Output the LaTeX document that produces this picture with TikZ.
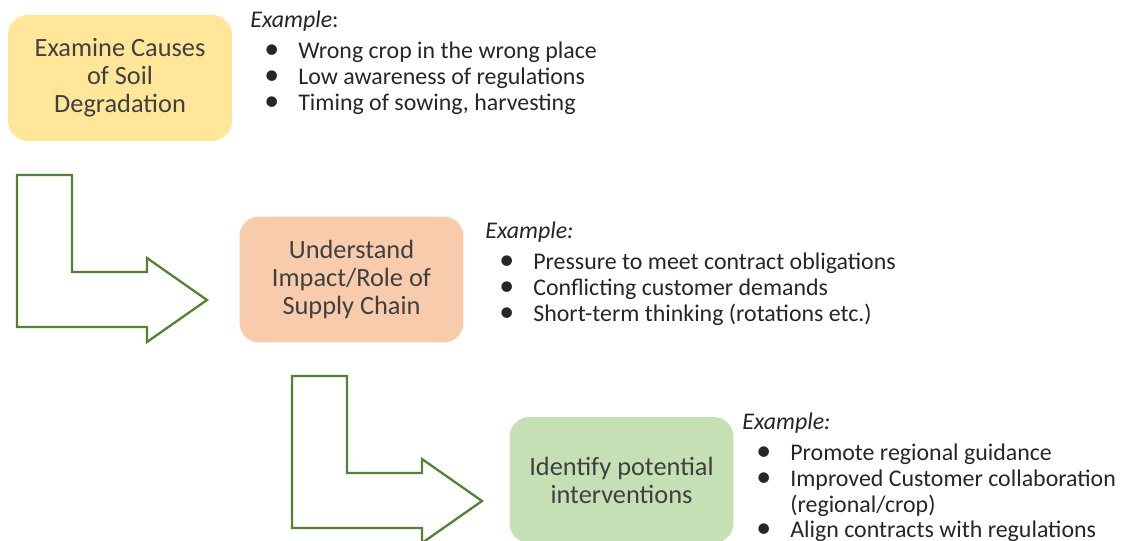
\documentclass[tikz,border=0pt]{standalone}
\usepackage{fontspec}
\usepackage{graphicx}
\setmainfont{Carlito}
\usetikzlibrary{positioning}
\definecolor{Sand}{HTML}{FFE699}
\definecolor{Peach}{HTML}{F8CBAD}
\definecolor{Sage}{HTML}{C5E0B4}
\definecolor{Leaf}{HTML}{548235}
\definecolor{Ink}{HTML}{404040}
\definecolor{Dark}{HTML}{262626}
\newcommand{\bpt}{\hspace*{0.28cm}\makebox[0.68cm][l]{\scalebox{1.25}{\textbullet}}}
\tikzset{
  stepbox/.style={rounded corners=0.4cm, minimum width=4.48cm, minimum height=2.52cm, align=center, text=Ink, inner sep=0, font=\fontsize{15}{16}\selectfont},
  examplenote/.style={anchor=north west, align=left, inner sep=0, text=Dark, font=\fontsize{13.6}{14.6}\selectfont},
  bentarrow/.pic={
    \draw[draw=Leaf, line width=1.3pt, fill=white, line join=miter]
      (0,0) -- (55,0) -- (55,97) -- (130,97) -- (130,83) -- (190,125)
      -- (130,167) -- (130,152) -- (0,152) -- cycle;
  },
}

\begin{document}
\begin{tikzpicture}[x=0.02cm,y=-0.02cm]
\path[use as bounding box] (0,0) rectangle (1123,541);
\clip (0,0) rectangle (1123,541);

% three steps
\node[stepbox,fill=Sand] (causes) at (120,78) {Examine Causes\\of Soil\\Degradation};
\node[stepbox,fill=Peach] (supply) at (351.5,279.5) {Understand\\Impact/Role of\\Supply Chain};
\node[stepbox,fill=Sage] (interv) at (621.5,480) {Identify potential\\interventions};

% bent arrows between steps
\pic at (17,175) {bentarrow};
\pic at (292,376) {bentarrow};

% examples
\node[examplenote] (excauses) at (250,11) {\textit{Example}:\\[3pt]
  \bpt Wrong crop in the wrong place\\
  \bpt Low awareness of regulations\\
  \bpt Timing of sowing, harvesting};
\node[examplenote] (exsupply) at (485,222) {\textit{Example:}\\[3pt]
  \bpt Pressure to meet contract obligations\\
  \bpt Conflicting customer demands\\
  \bpt Short-term thinking (rotations etc.)};
\node[examplenote] (exinterv) at (742,413) {\textit{Example:}\\[3pt]
  \bpt Promote regional guidance\\
  \bpt Improved Customer collaboration\\
  \hspace*{0.96cm}(regional/crop)\\
  \bpt Align contracts with regulations};
\end{tikzpicture}
\end{document}
